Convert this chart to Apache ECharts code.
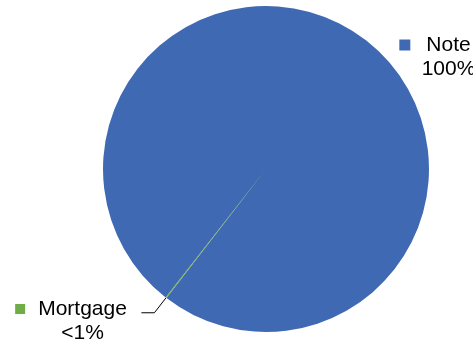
<!DOCTYPE html>
<html>
<head>
<meta charset="utf-8">
<script src="https://cdn.jsdelivr.net/npm/echarts@6/dist/echarts.min.js"></script>
<style>
  html, body { margin: 0; padding: 0; background: #ffffff; }
  #chart { width: 473px; height: 342px; }
</style>
</head>
<body>
<div id="chart"></div>
<script>
const categories = ['Note', 'Mortgage'];
const values = [99.9, 0.1];
const shownPct = ['100%', '<1%'];
const colors = ['#3F6AB3', '#70AD47'];

// where each label block sits (center x, center y)
const labelSpots = [
  { x: 435, y: 57 },
  { x: 71, y: 321 }
];

const chart = echarts.init(document.getElementById('chart'));

const richStyle = {
  sq0: { width: 11, height: 11, backgroundColor: colors[0] },
  sq1: { width: 10, height: 10, backgroundColor: colors[1] },
  gap0: { width: 16 },
  gap1: { width: 13 },
  pad0: { width: 27 },
  pad1: { width: 23 },
  t: { fontSize: 21, lineHeight: 24, color: '#000000', fontFamily: 'Liberation Sans, Arial, sans-serif' }
};

chart.setOption({
  animation: false,
  series: [{
    type: 'pie',
    center: [266, 169],
    radius: 163,
    startAngle: 232,
    clockwise: true,
    minAngle: 0,
    avoidLabelOverlap: false,
    itemStyle: { borderWidth: 0 },
    emphasis: { disabled: true },
    label: {
      show: true,
      position: 'outside',
      align: 'center',
      lineHeight: 24,
      formatter: function (p) {
        const i = p.dataIndex;
        return '{sq' + i + '|}{gap' + i + '|}{t|' + p.name + '}\n{pad' + i + '|}{t|' + shownPct[i] + '}';
      },
      rich: richStyle
    },
    labelLine: {
      show: true,
      length: 19,
      length2: 13,
      smooth: false,
      lineStyle: { color: '#000000', width: 1 }
    },
    labelLayout: function (params) {
      const spot = labelSpots[params.dataIndex];
      const out = { x: spot.x, y: spot.y, align: 'center', verticalAlign: 'middle' };
      if (params.labelLinePoints) out.labelLinePoints = params.labelLinePoints;
      return out;
    },
    data: categories.map(function (name, i) {
      return {
        name: name,
        value: values[i],
        itemStyle: { color: colors[i] },
        labelLine: { show: i === 1 }
      };
    })
  }]
});
</script>
</body>
</html>
